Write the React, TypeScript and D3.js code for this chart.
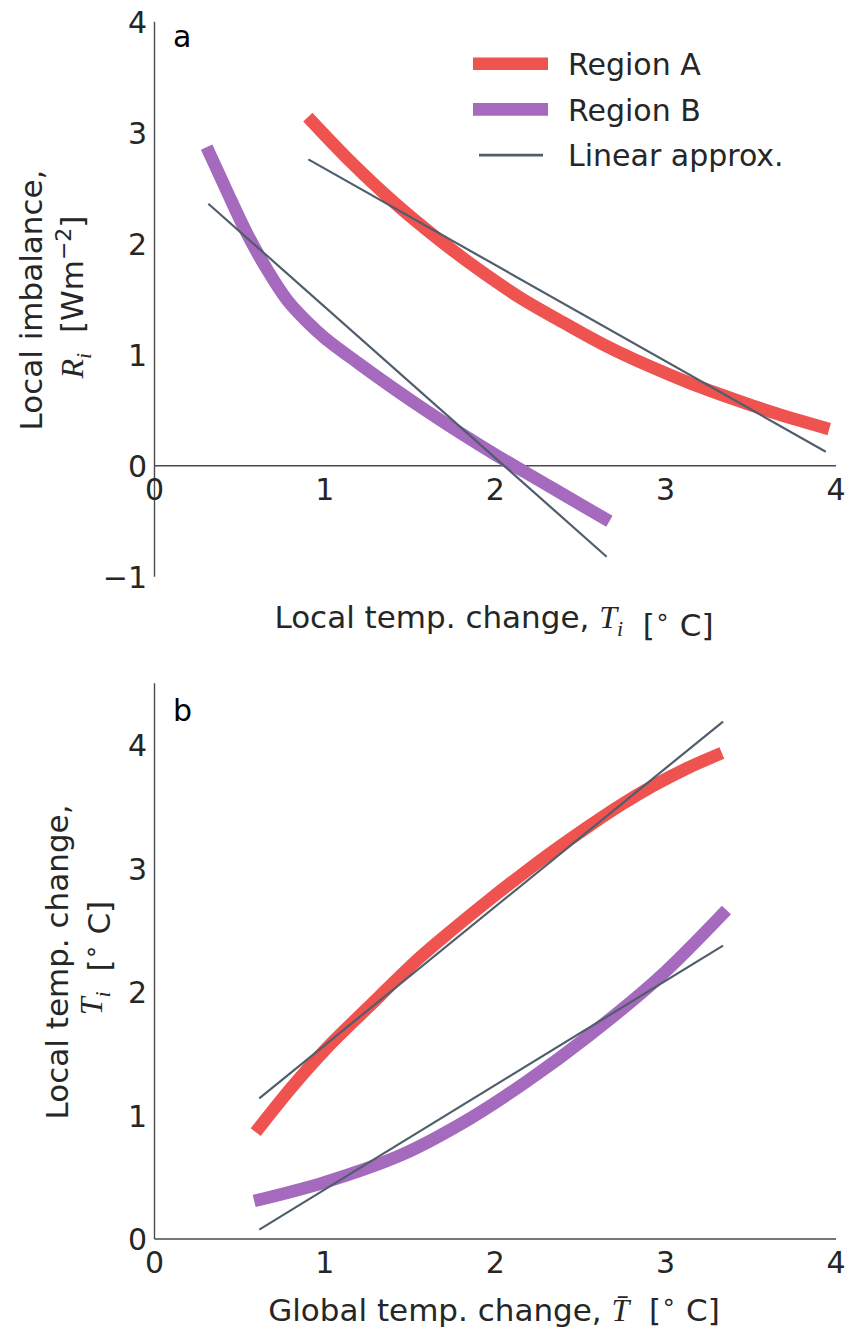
import React from "react";
import * as d3 from "d3";

// Panel a: local radiative imbalance vs local temperature change
const localTempA = [0.9, 1.15, 1.4, 1.65, 1.9, 2.15, 2.4, 2.65, 2.9, 3.15, 3.4, 3.65, 3.96];
const imbalanceA = [3.14, 2.74, 2.38, 2.06, 1.77, 1.51, 1.29, 1.08, 0.9, 0.74, 0.6, 0.47, 0.33];
const localTempB = [0.306, 0.42, 0.54, 0.66, 0.78, 0.9, 1.0, 1.2, 1.4, 1.6, 1.8, 2.0, 2.2, 2.4, 2.67];
const imbalanceB = [2.87, 2.49, 2.1, 1.77, 1.49, 1.29, 1.15, 0.92, 0.7, 0.49, 0.29, 0.1, -0.08, -0.26, -0.5];
const linTempA = [0.903, 3.94];
const linImbalanceA = [2.76, 0.126];
const linTempB = [0.316, 2.654];
const linImbalanceB = [2.36, -0.82];

// Panel b: local temperature change vs global temperature change
const globalTempA = [0.594, 0.8, 1.0, 1.25, 1.558, 1.754, 1.95, 2.145, 2.34, 2.536, 2.732, 2.927, 3.123, 3.33];
const localChangeA = [0.865, 1.22, 1.53, 1.87, 2.28, 2.51, 2.73, 2.94, 3.14, 3.33, 3.51, 3.67, 3.81, 3.935];
const globalTempB = [0.585, 1.0, 1.454, 1.857, 2.2, 2.549, 2.953, 3.357];
const localChangeB = [0.308, 0.46, 0.684, 0.98, 1.29, 1.646, 2.106, 2.664];
const linGlobal = [0.615, 3.337];
const linLocalA = [1.138, 4.19];
const linLocalB = [0.076, 2.376];

const xTicks = [0, 1, 2, 3, 4];
const yTicksA = [-1, 0, 1, 2, 3, 4];
const yTicksB = [0, 1, 2, 3, 4];

const legendLabels = ["Region A", "Region B", "Linear approx."];

const RED = "#ee5350";
const PURPLE = "#a569bd";
const SLATE = "#505e6c";
const INK = "#262626";
const AXIS = "#4a4a4a";
const FONT = "DejaVu Sans, sans-serif";
const MATH = "Liberation Serif, DejaVu Serif, serif";
const SP = "\u00a0";

const zip = (xs: number[], ys: number[]) => xs.map((x, i) => [x, ys[i]] as [number, number]);

function Degree() {
  return (
    <>
      <tspan>{SP + SP + "["}</tspan>
      <tspan fontSize={24} dy={-11}>{"\u2218"}</tspan>
      <tspan dy={11}>{SP + "C]"}</tspan>
    </>
  );
}

export default function App() {
  const xScale = d3.scaleLinear().domain([0, 4]).range([154.5, 836]);
  const yA = d3.scaleLinear().domain([-1, 4]).range([576.7, 21.7]);
  const yB = d3.scaleLinear().domain([0, 4.5]).range([1239, 683.25]);

  const lineA = d3
    .line<[number, number]>()
    .x((d) => xScale(d[0]))
    .y((d) => yA(d[1]))
    .curve(d3.curveCatmullRom.alpha(0.5));
  const lineB = d3
    .line<[number, number]>()
    .x((d) => xScale(d[0]))
    .y((d) => yB(d[1]))
    .curve(d3.curveCatmullRom.alpha(0.5));

  const thick = 12.6;
  const thin = 2.2;

  const tickText = { fontFamily: FONT, fontSize: 30, fill: INK } as const;
  const labelText = { fontFamily: FONT, fontSize: 31, fill: INK } as const;

  return (
    <svg width={849} height={1333} style={{ position: "absolute", left: 0, top: 0, background: "#fff" }}>
      <rect width={849} height={1333} fill="#fff" />

      {/* ---------- Panel a ---------- */}
      <line x1={xScale(0)} x2={xScale(0)} y1={yA(4)} y2={yA(-1)} stroke={AXIS} strokeWidth={1.4} />
      <line x1={xScale(0)} x2={xScale(4)} y1={yA(0)} y2={yA(0)} stroke={AXIS} strokeWidth={1.4} />
      {yTicksA.map((t) => (
        <text key={"ya" + t} x={147} y={yA(t) + 11} textAnchor="end" {...tickText}>
          {t < 0 ? "\u2212" + Math.abs(t) : t}
        </text>
      ))}
      {xTicks.map((t) => (
        <text key={"xa" + t} x={xScale(t)} y={500} textAnchor="middle" {...tickText}>
          {t}
        </text>
      ))}

      <path d={lineA(zip(localTempA, imbalanceA)) || ""} fill="none" stroke={RED} strokeWidth={thick} />
      <path d={lineA(zip(localTempB, imbalanceB)) || ""} fill="none" stroke={PURPLE} strokeWidth={thick} />
      <path d={lineA(zip(linTempA, linImbalanceA)) || ""} fill="none" stroke={SLATE} strokeWidth={thin} />
      <path d={lineA(zip(linTempB, linImbalanceB)) || ""} fill="none" stroke={SLATE} strokeWidth={thin} />

      <text x={173} y={47} fontFamily={FONT} fontSize={30} fill="#000">a</text>

      {/* legend */}
      {legendLabels.map((lab, i) => {
        const ly = 63.7 + i * 45.7;
        const isLin = i === 2;
        return (
          <g key={lab}>
            <line
              x1={isLin ? 479 : 473}
              x2={isLin ? 543 : 548}
              y1={ly}
              y2={ly}
              stroke={i === 0 ? RED : i === 1 ? PURPLE : SLATE}
              strokeWidth={isLin ? 2.6 : 12.6}
            />
            <text x={568} y={ly + 11.3} fontFamily={FONT} fontSize={30} fill={INK}>
              {lab}
            </text>
          </g>
        );
      })}

      {/* axis labels a */}
      <text x={494} y={628} textAnchor="middle" {...labelText}>
        {"Local temp. change," + SP}
        <tspan fontFamily={MATH} fontStyle="italic" fontSize={32}>T</tspan>
        <tspan fontFamily={MATH} fontStyle="italic" fontSize={22} dy={8}>i</tspan>
        <tspan dy={-8}></tspan>
        <Degree />
      </text>
      <text transform="translate(42,300) rotate(-90)" textAnchor="middle" {...labelText}>
        Local imbalance,
      </text>
      <text transform="translate(83,297) rotate(-90)" textAnchor="middle" {...labelText}>
        <tspan fontFamily={MATH} fontStyle="italic" fontSize={32}>R</tspan>
        <tspan fontFamily={MATH} fontStyle="italic" fontSize={22} dy={8}>i</tspan>
        <tspan dy={-8}>{SP + SP + "[Wm"}</tspan>
        <tspan fontSize={22} dy={-12}>{"\u22122"}</tspan>
        <tspan dy={12}>{"]"}</tspan>
      </text>

      {/* ---------- Panel b ---------- */}
      <line x1={xScale(0)} x2={xScale(0)} y1={yB(4.5)} y2={yB(0)} stroke={AXIS} strokeWidth={1.4} />
      <line x1={xScale(0)} x2={xScale(4)} y1={yB(0)} y2={yB(0)} stroke={AXIS} strokeWidth={1.4} />
      {yTicksB.map((t) => (
        <text key={"yb" + t} x={147} y={yB(t) + 11} textAnchor="end" {...tickText}>
          {t}
        </text>
      ))}
      {xTicks.map((t) => (
        <text key={"xb" + t} x={xScale(t)} y={1273} textAnchor="middle" {...tickText}>
          {t}
        </text>
      ))}

      <path d={lineB(zip(globalTempA, localChangeA)) || ""} fill="none" stroke={RED} strokeWidth={thick} />
      <path d={lineB(zip(globalTempB, localChangeB)) || ""} fill="none" stroke={PURPLE} strokeWidth={thick} />
      <path d={lineB(zip(linGlobal, linLocalA)) || ""} fill="none" stroke={SLATE} strokeWidth={thin} />
      <path d={lineB(zip(linGlobal, linLocalB)) || ""} fill="none" stroke={SLATE} strokeWidth={thin} />

      <text x={173} y={721} fontFamily={FONT} fontSize={30} fill="#000">b</text>

      <text x={494} y={1321} textAnchor="middle" {...labelText}>
        {"Global temp. change," + SP}
        <tspan fontFamily={MATH} fontStyle="italic" fontSize={32}>{"T\u0304"}</tspan>
        <Degree />
      </text>
      <text transform="translate(68,962) rotate(-90)" textAnchor="middle" {...labelText}>
        Local temp. change,
      </text>
      <text transform="translate(102,958) rotate(-90)" textAnchor="middle" {...labelText}>
        <tspan fontFamily={MATH} fontStyle="italic" fontSize={32}>T</tspan>
        <tspan fontFamily={MATH} fontStyle="italic" fontSize={22} dy={8}>i</tspan>
        <tspan dy={-8}></tspan>
        <Degree />
      </text>
    </svg>
  );
}
